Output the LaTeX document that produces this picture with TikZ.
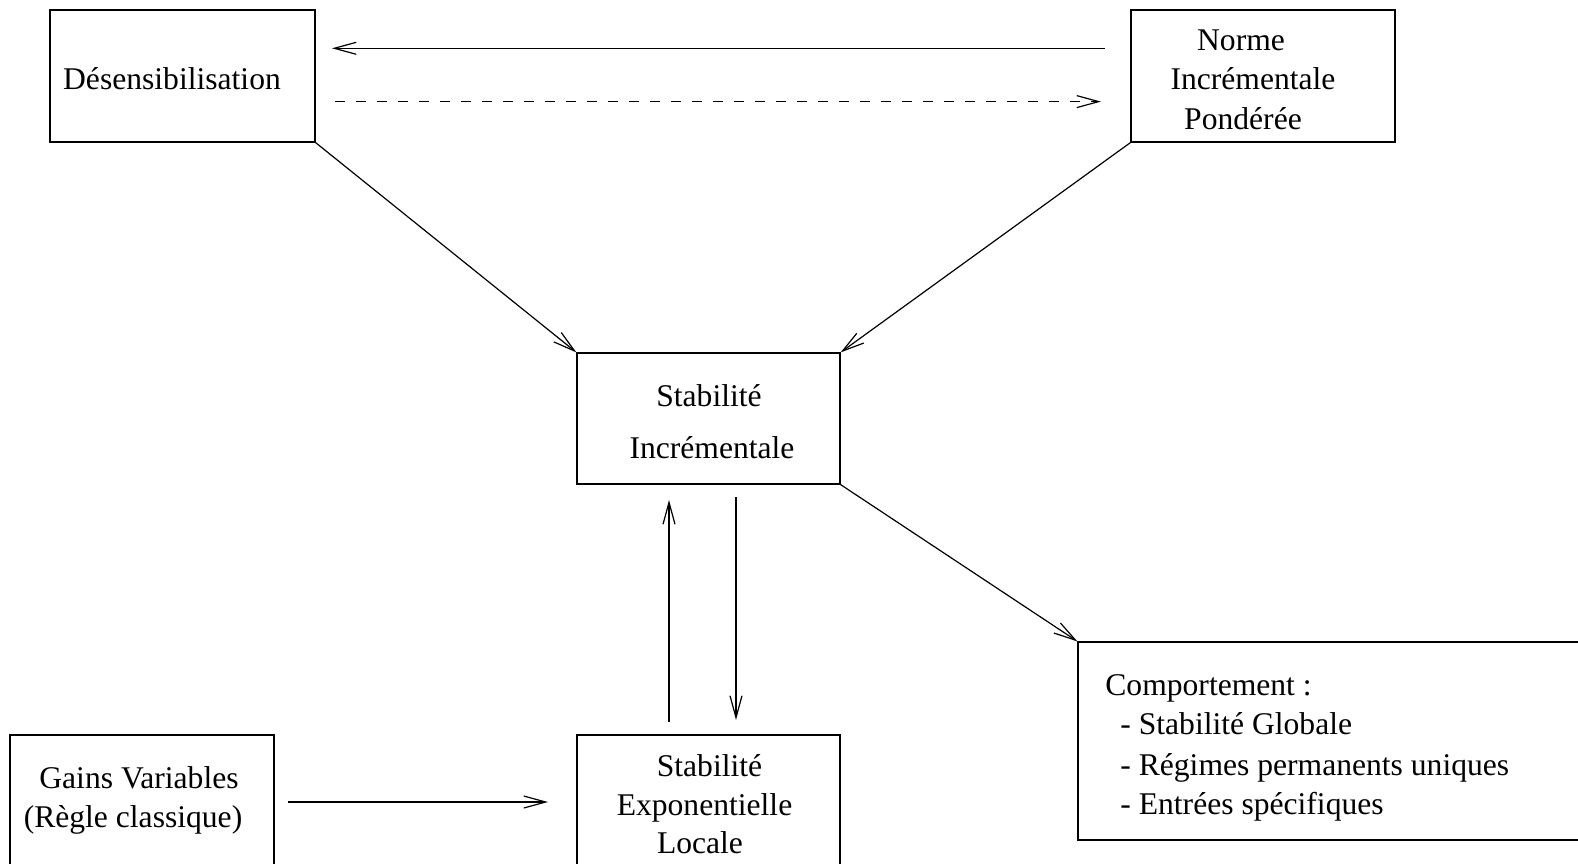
\documentclass[tikz,border=0pt]{standalone}
\usepackage{fontspec}
\setmainfont{Liberation Serif}
\usetikzlibrary{arrows.meta}
\begin{document}
\begin{tikzpicture}[x=0.5pt,y=-0.5pt,
  box/.style={draw,line width=0.6pt,inner sep=0pt},
  lbl/.style={inner sep=0pt,anchor=base,font=\fontsize{15.8}{19}\selectfont},
  lbll/.style={inner sep=0pt,anchor=base west,font=\fontsize{15.8}{19}\selectfont},
  arr/.style={line width=0.6pt,-{Straight Barb[length=11pt,width=6pt,line width=0.6pt]}},
  dsh/.style={arr,dash pattern=on 5pt off 5.5pt}]
\clip (0,0) rectangle (1578,863);
\fill[white] (0,0) rectangle (1578,863);
% boxes
\node[box,minimum width=132.5pt,minimum height=66pt] (des) at (182.5,76) {};
\node[box,minimum width=132pt,minimum height=66pt] (norme) at (1263,76) {};
\node[box,minimum width=131.5pt,minimum height=65.5pt] (si) at (708.5,418.5) {};
\node[box,minimum width=131.5pt,minimum height=65.5pt] (sel) at (708.5,800.5) {};
\node[box,minimum width=132pt,minimum height=65.5pt] (gains) at (142,800.5) {};
\node[box,minimum width=256pt,minimum height=99pt] (comp) at (1334,741) {};
% texts
\node[lbl] (t1) at (172,89) {Désensibilisation};
\node[lbl] (t2) at (1241,50) {Norme};
\node[lbl] (t3) at (1253,89.5) {Incrémentale};
\node[lbl] (t4) at (1243,129) {Pondérée};
\node[lbl] (t5) at (709,406.5) {Stabilité};
\node[lbl] (t6) at (712,458) {Incrémentale};
\node[lbl] (t7) at (709.5,776) {Stabilité};
\node[lbl] (t8) at (704.5,815) {Exponentielle};
\node[lbl] (t9) at (700,853) {Locale};
\node[lbl] (t10) at (139,788) {Gains Variables};
\node[lbl] (t11) at (133,827) {(Règle classique)};
\node[lbll] (t12) at (1105,695) {Comportement :};
\node[lbll] (t13) at (1120,734.6) {- Stabilité Globale};
\node[lbll] (t14) at (1120,775) {- Régimes permanents uniques};
\node[lbll] (t15) at (1120,814) {- Entrées spécifiques};
% arrow end points
\coordinate (a1s) at (1105,48.3);
\coordinate (a1e) at (332,48.3);
\coordinate (a2s) at (335,101.6);
\coordinate (a2e) at (1101,101.6);
\coordinate (a3s) at (669,722);
\coordinate (a3e) at (669,500);
\coordinate (a4s) at (736,497);
\coordinate (a4e) at (736,720);
\coordinate (a5s) at (288,802);
\coordinate (a5e) at (548,802);
% connectors
\draw[arr] (a1s) -- (a1e);
\draw[dsh] (a2s) -- (a2e);
\draw[arr] (des.south east) -- (si.north west);
\draw[arr] (norme.south west) -- (si.north east);
\draw[arr] (si.south east) -- (comp.north west);
\draw[arr] (a3s) -- (a3e);
\draw[arr] (a4s) -- (a4e);
\draw[arr] (a5s) -- (a5e);
\end{tikzpicture}
\end{document}
